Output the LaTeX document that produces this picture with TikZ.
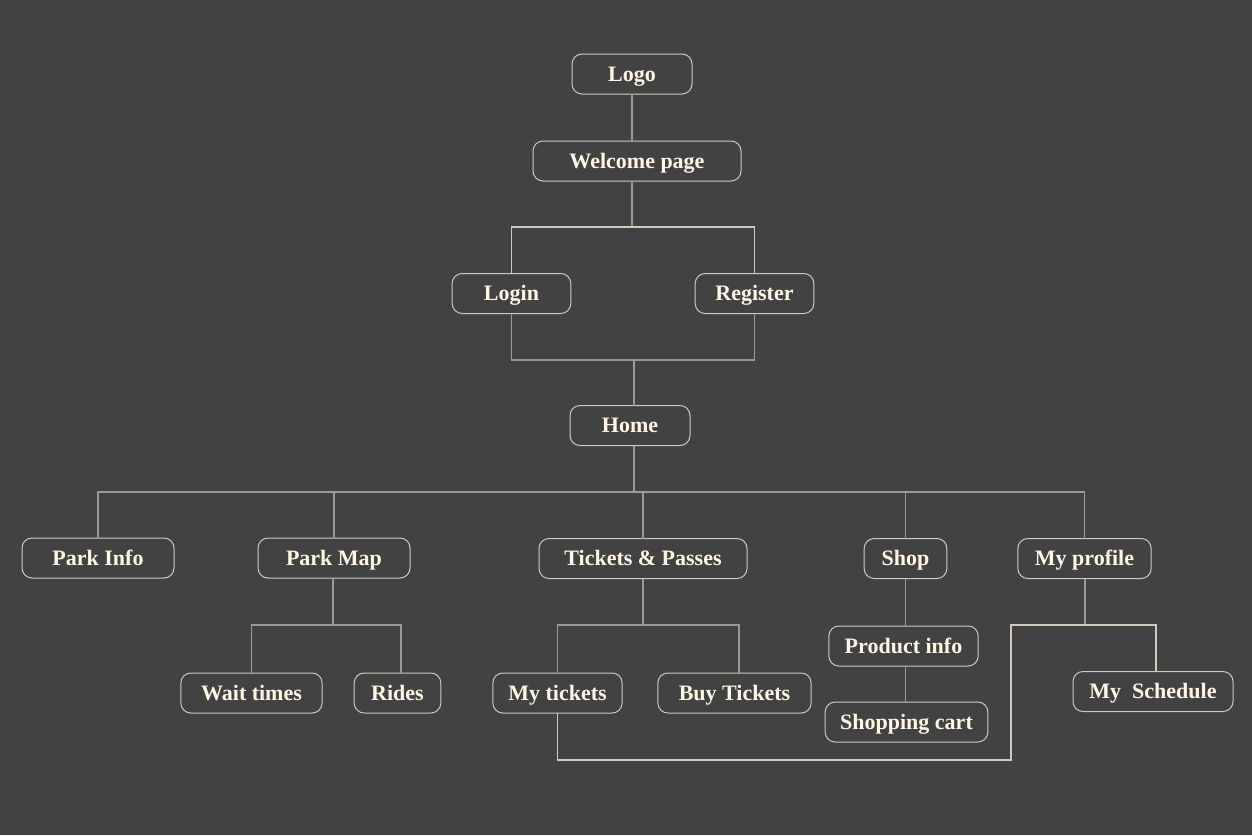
\documentclass[tikz,border=0pt]{standalone}
\usepackage{fontspec}
\setmainfont{Liberation Serif}
\definecolor{bgdark}{HTML}{424242}
\definecolor{cream}{HTML}{FFF6E4}
\definecolor{rim}{HTML}{D2C9BC}
\definecolor{wire}{HTML}{A1988F}
\tikzset{every picture/.style={line width=0.75pt}}
\tikzset{
  page/.style={draw=rim, fill=bgdark, text=cream, rounded corners=7.5pt,
    minimum height=30pt, inner xsep=0pt, outer sep=0pt,
    text height=10.8pt, text depth=0pt,
    font=\bfseries\fontsize{16.5}{20}\selectfont},
  link/.style={draw=wire, line width=0.9pt},
  lightlink/.style={draw=rim, line width=0.9pt}
}

\begin{document}
\begin{tikzpicture}[x=0.75pt,y=0.75pt,yscale=-1,xscale=1]
%set diagram to 1252 x 835
\fill[bgdark] (0,0) rectangle (1252,835);
\useasboundingbox (0,0) rectangle (1252,835);

% Pages
\node[page, minimum width=90pt] (logo) at (632,74) {Logo};
\node[page, minimum width=156pt] (welcome) at (637,161) {Welcome page};
\node[page, minimum width=89pt] (login) at (511.5,293.5) {Login};
\node[page, minimum width=89pt] (register) at (754.5,293.5) {Register};
\node[page, minimum width=90pt] (home) at (630,425.5) {Home};
\node[page, minimum width=114pt] (parkinfo) at (98,558) {Park Info};
\node[page, minimum width=114pt] (parkmap) at (334,558) {Park Map};
\node[page, minimum width=156pt] (tickets) at (643,558.5) {Tickets \& Passes};
\node[page, minimum width=62pt] (shop) at (905.5,558.5) {Shop};
\node[page, minimum width=100pt] (myprofile) at (1084.5,558.5) {My profile};
\node[page, minimum width=106pt] (waittimes) at (251.5,693) {Wait times};
\node[page, minimum width=65pt] (rides) at (397.5,693) {Rides};
\node[page, minimum width=97pt] (mytickets) at (557.5,693) {My tickets};
\node[page, minimum width=115pt] (buytickets) at (734.5,693) {Buy Tickets};
\node[page, minimum width=112pt] (productinfo) at (903.5,646) {Product info};
\node[page, minimum width=122pt] (shoppingcart) at (906.5,722) {Shopping cart};
\node[page, minimum width=120pt] (myschedule) at (1153,691.5) {My~ Schedule};

% Split points
\coordinate (wsplit) at (632,227);
\coordinate (lmerge) at (634,360);
\coordinate (hbar) at (634,492);
\coordinate (pmbar) at (333,625);
\coordinate (ridesjoin) at (401,625);
\coordinate (tpbar) at (643,625);
\coordinate (buyjoin) at (739,625);
\coordinate (mpbar) at (1085,625);
\coordinate (schedjoin) at (1156,625);
\coordinate (loopx) at (1011,760);

% Connectors
\draw[link] (logo.south) -- (logo.south |- welcome.north);
\draw[link] (logo |- welcome.south) -- (wsplit);
\draw[lightlink] (login.north) -- (login.north |- wsplit) -- (register.north |- wsplit) -- (register.north);
\draw[link] (login.south) -- (login.south |- lmerge) -- (register.south |- lmerge) -- (register.south);
\draw[link] (lmerge) -- (lmerge |- home.north);
\draw[link] (lmerge |- home.south) -- (hbar);
\draw[link] (parkinfo.north) -- (parkinfo.north |- hbar) -- (myprofile.north |- hbar) -- (myprofile.north);
\foreach \n in {parkmap,tickets,shop}
  \draw[link] (\n.north) -- (\n.north |- hbar);
\draw[link] (pmbar |- parkmap.south) -- (pmbar);
\draw[link] (waittimes.north) -- (waittimes.north |- pmbar) -- (ridesjoin) -- (ridesjoin |- rides.north);
\draw[link] (tickets.south) -- (tpbar);
\draw[link] (mytickets.north) -- (mytickets.north |- tpbar) -- (buyjoin) -- (buyjoin |- buytickets.north);
\draw[link] (shop.south) -- (shop.south |- productinfo.north);
\draw[link] (shop.south |- productinfo.south) -- (shop.south |- shoppingcart.north);
\draw[link] (mpbar |- myprofile.south) -- (mpbar);
\draw[lightlink] (schedjoin |- myschedule.north) -- (schedjoin) -- (mpbar -| loopx) -- (loopx) -- (loopx -| mytickets.south) -- (mytickets.south);

\end{tikzpicture}
\end{document}
